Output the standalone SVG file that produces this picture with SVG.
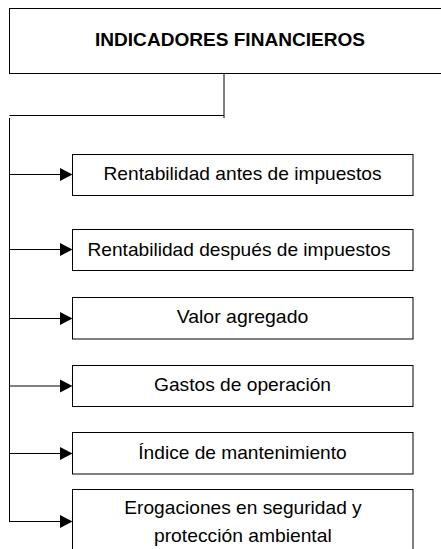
<svg xmlns="http://www.w3.org/2000/svg" width="441" height="549" viewBox="0 0 441 549">
<defs>
<style>
.box{fill:#fff;stroke:#000;stroke-width:1}
.ln{fill:none;stroke:#000;stroke-width:1}
.hd{fill:#000;stroke:none}
.t{font-family:"Liberation Sans",Arial,sans-serif;font-size:19px;fill:#000}
.tb{font-family:"Liberation Sans",Arial,sans-serif;font-size:19px;font-weight:bold;fill:#000}
</style>
</defs>
<rect width="441" height="549" fill="#fff"/>
<g id="connectors">
<path class="ln" d="M224,73 V118 M9.5,115.5 H224 M9.5,118 V522"/>
<path class="ln" d="M9.5,174.5 H61 M9.5,249.5 H61 M9.5,318.5 H61 M9.5,386 H61 M9.5,453.5 H61 M9.5,521.5 H61"/>
<polygon class="hd" points="60,168 72.5,174.5 60,181"/>
<polygon class="hd" points="60,243 72.5,249.5 60,256"/>
<polygon class="hd" points="60,312 72.5,318.5 60,325"/>
<polygon class="hd" points="60,379.5 72.5,386 60,392.5"/>
<polygon class="hd" points="60,447 72.5,453.5 60,460"/>
<polygon class="hd" points="60,515 72.5,521.5 60,528"/>
</g>
<g id="root">
<rect class="box" x="9.5" y="8.5" width="440" height="65"/>
<text class="tb" x="95" y="45.5" textLength="270" lengthAdjust="spacingAndGlyphs">INDICADORES FINANCIEROS</text>
</g>
<g id="n1">
<rect class="box" x="72.5" y="154.5" width="340.5" height="41"/>
<text class="t" x="103.5" y="180" textLength="278" lengthAdjust="spacingAndGlyphs">Rentabilidad antes de impuestos</text>
</g>
<g id="n2">
<rect class="box" x="72.5" y="229.5" width="340.5" height="41"/>
<text class="t" x="87.5" y="255.5" textLength="303" lengthAdjust="spacingAndGlyphs">Rentabilidad después de impuestos</text>
</g>
<g id="n3">
<rect class="box" x="72.5" y="297.5" width="340.5" height="41.5"/>
<text class="t" x="176.7" y="323" textLength="131.6" lengthAdjust="spacingAndGlyphs">Valor agregado</text>
</g>
<g id="n4">
<rect class="box" x="72.5" y="365.5" width="340.5" height="41"/>
<text class="t" x="154" y="390.5" textLength="177" lengthAdjust="spacingAndGlyphs">Gastos de operación</text>
</g>
<g id="n5">
<rect class="box" x="72.5" y="432.5" width="340.5" height="41.5"/>
<text class="t" x="138.3" y="458.5" textLength="208.4" lengthAdjust="spacingAndGlyphs">Índice de mantenimiento</text>
</g>
<g id="n6">
<rect class="box" x="72.5" y="489.5" width="340.5" height="70"/>
<text class="t" x="124.3" y="514" textLength="237.4" lengthAdjust="spacingAndGlyphs">Erogaciones en seguridad y</text>
<text class="t" x="154" y="542" textLength="177.7" lengthAdjust="spacingAndGlyphs">protección ambiental</text>
</g>
</svg>
